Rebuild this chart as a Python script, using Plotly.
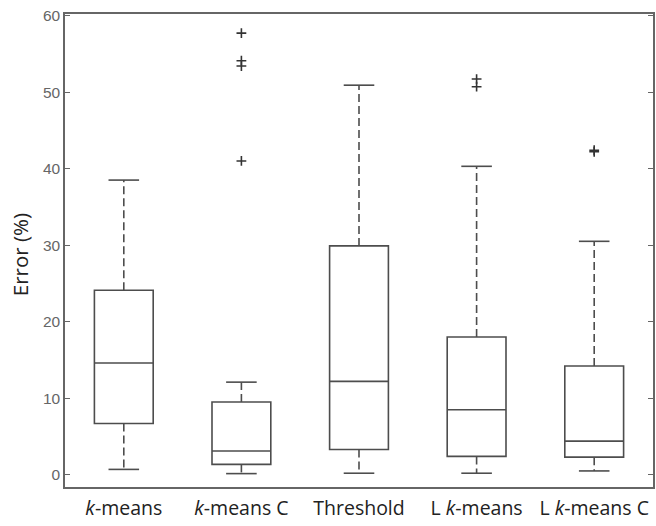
import plotly.graph_objects as go

categories = ["<i>k</i>-means", "<i>k</i>-means C", "Threshold", "L <i>k</i>-means", "L <i>k</i>-means C"]
positions = [1, 2, 3, 4, 5]
q1 = [6.7, 1.35, 3.3, 2.4, 2.3]
median = [14.6, 3.1, 12.2, 8.5, 4.4]
q3 = [24.1, 9.5, 29.9, 18.0, 14.2]
lower_whisker = [0.7, 0.15, 0.2, 0.2, 0.5]
upper_whisker = [38.5, 12.1, 50.9, 40.3, 30.5]
outlier_x = [2, 2, 2, 2, 4, 4, 5, 5]
outlier_y = [57.7, 54.1, 53.4, 41.0, 51.7, 50.7, 42.2, 42.4]
y_ticks = [0, 10, 20, 30, 40, 50, 60]
y_title = "Error (%)"

LINE = "#4d4d4d"
BOX_W = 0.5
CAP_W = 0.26
W, H = 656, 526
ML, MR, MT, MB = 65, 3, 14, 39

fig = go.Figure()

fig.add_trace(go.Box(
    x=positions, q1=q1, median=median, q3=q3,
    lowerfence=q1, upperfence=q3,
    width=BOX_W, whiskerwidth=0,
    fillcolor="white", line=dict(color=LINE, width=1.6),
    boxpoints=False, showlegend=False, hoverinfo="skip",
))

# dashed whiskers
wx, wy = [], []
for p, a, b, lo, hi in zip(positions, q1, q3, lower_whisker, upper_whisker):
    wx += [p, p, None, p, p, None]
    wy += [b, hi, None, a, lo, None]
fig.add_trace(go.Scatter(x=wx, y=wy, mode="lines",
                         line=dict(color=LINE, width=1.6, dash="8px,4px"),
                         showlegend=False, hoverinfo="skip"))

# whisker caps
cx, cy = [], []
for p, lo, hi in zip(positions, lower_whisker, upper_whisker):
    cx += [p - CAP_W / 2, p + CAP_W / 2, None, p - CAP_W / 2, p + CAP_W / 2, None]
    cy += [hi, hi, None, lo, lo, None]
fig.add_trace(go.Scatter(x=cx, y=cy, mode="lines",
                         line=dict(color=LINE, width=1.6),
                         showlegend=False, hoverinfo="skip"))

# outliers
fig.add_trace(go.Scatter(x=outlier_x, y=outlier_y, mode="markers",
                         marker=dict(symbol="cross-thin", size=7,
                                     line=dict(color="#333333", width=1.6)),
                         showlegend=False, hoverinfo="skip"))

plot_w = W - ML - MR
fig.update_layout(
    width=W, height=H,
    margin=dict(l=ML, r=MR, t=MT, b=MB),
    paper_bgcolor="white", plot_bgcolor="white",
    annotations=[dict(
        text=y_title, textangle=-90, showarrow=False,
        xref="paper", yref="paper", x=-(ML - 20) / plot_w, y=0.49,
        xanchor="center", yanchor="middle",
        font=dict(family="Open Sans", size=20.5, color="#222222"),
    )],
)
fig.update_xaxes(
    range=[0.5, 5.5], tickmode="array", tickvals=positions, ticktext=categories,
    showline=True, linecolor="#666666", linewidth=1.5, mirror=True,
    ticks="", showgrid=False, zeroline=False, automargin=False,
    ticklabelstandoff=3,
    tickfont=dict(family="Open Sans", size=19.5, color="#222222"),
)
fig.update_yaxes(
    range=[-1.6, 60.2], tickmode="array", tickvals=y_ticks,
    showline=True, linecolor="#666666", linewidth=1.5, mirror="ticks",
    ticks="inside", ticklen=5, tickcolor="#666666", tickwidth=1.3,
    showgrid=False, zeroline=False, automargin=False,
    tickfont=dict(family="Liberation Sans", size=15.5, color="#666666"),
)

fig.write_html("out.html", config={"displayModeBar": False},
               post_script="document.body.style.margin='0';document.body.style.overflow='hidden';")
